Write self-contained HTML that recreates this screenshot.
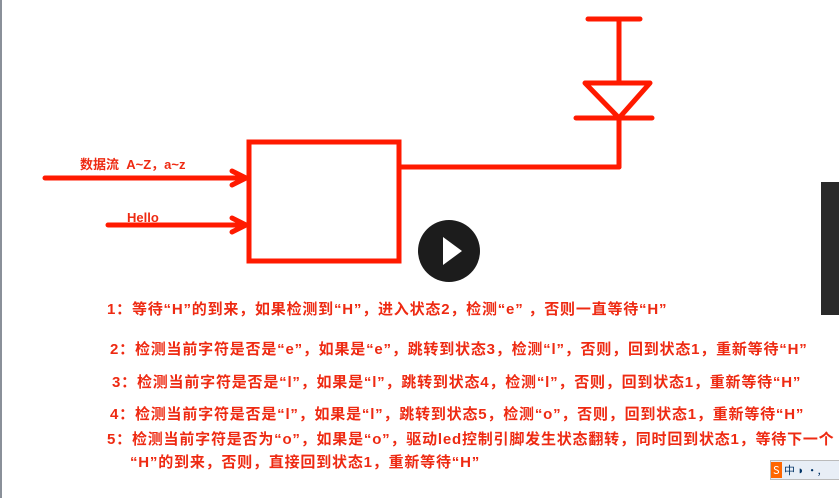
<!DOCTYPE html>
<html><head><meta charset="utf-8"><style>
body{margin:0;width:839px;height:498px;background:#fff;overflow:hidden;position:relative;font-family:"Liberation Sans","Noto Sans CJK SC",sans-serif}
.t{position:absolute;color:#ee2a12;font-weight:bold;font-size:15px;letter-spacing:0.8px;white-space:nowrap;line-height:18px}
</style></head><body>
<div style="position:absolute;left:0;top:0;width:2px;height:498px;background:#8a9099"></div>
<svg width="839" height="498" style="position:absolute;left:0;top:0">
<g stroke="#ff1a00" stroke-width="5" fill="none" stroke-linecap="round">
<rect x="249" y="142" width="150" height="119"/>
<line x1="588" y1="19" x2="640" y2="19"/>
<line x1="619" y1="19" x2="619" y2="82"/>
<polygon points="585,83 650,83 619,118" stroke-linejoin="round"/>
<line x1="576" y1="118" x2="652" y2="118"/>
<line x1="619" y1="118" x2="619" y2="167"/>
<line x1="400" y1="167" x2="619" y2="167"/>
<line x1="45" y1="178" x2="245" y2="178"/>
<polyline points="232,171 246,178 232,185"/>
<line x1="108" y1="225" x2="245" y2="225"/>
<polyline points="232,218 246,225 232,232"/>
</g>
<circle cx="449" cy="251" r="31" fill="#1c1c1c"/>
<polygon points="443,237 443,265 462,251" fill="#fff"/>
<rect x="821" y="182" width="18" height="133" fill="#2a2a2a"/>
</svg>
<div class="t" style="left:80px;top:156px;font-size:13px;letter-spacing:0">数据流&nbsp; A~Z，a~z</div>
<div class="t" style="left:127px;top:209px;font-size:13px;letter-spacing:0">Hello</div>
<div class="t" style="left:107px;top:301px">1：等待“H”的到来，如果检测到“H”，进入状态2，检测“e” ，否则一直等待“H”</div>
<div class="t" style="left:110px;top:341px">2：检测当前字符是否是“e”，如果是“e”，跳转到状态3，检测“l”，否则，回到状态1，重新等待“H”</div>
<div class="t" style="left:112px;top:374px">3：检测当前字符是否是“l”，如果是“l”，跳转到状态4，检测“l”，否则，回到状态1，重新等待“H”</div>
<div class="t" style="left:110px;top:406px">4：检测当前字符是否是“l”，如果是“l”，跳转到状态5，检测“o”，否则，回到状态1，重新等待“H”</div>
<div class="t" style="left:107px;top:431px">5：检测当前字符是否为“o”，如果是“o”，驱动led控制引脚发生状态翻转，同时回到状态1，等待下一个</div>
<div class="t" style="left:130px;top:454px">“H”的到来，否则，直接回到状态1，重新等待“H”</div>
<div style="position:absolute;left:770px;top:460px;width:69px;height:18px;background:#e8eef6;border:1px solid #bbb;font-size:11px;color:#036;font-family:'Noto Sans CJK SC',sans-serif;line-height:18px"><span style="background:#f60;color:#fff;padding:0 2px">S</span> 中 ◗ •,</div>
</body></html>
